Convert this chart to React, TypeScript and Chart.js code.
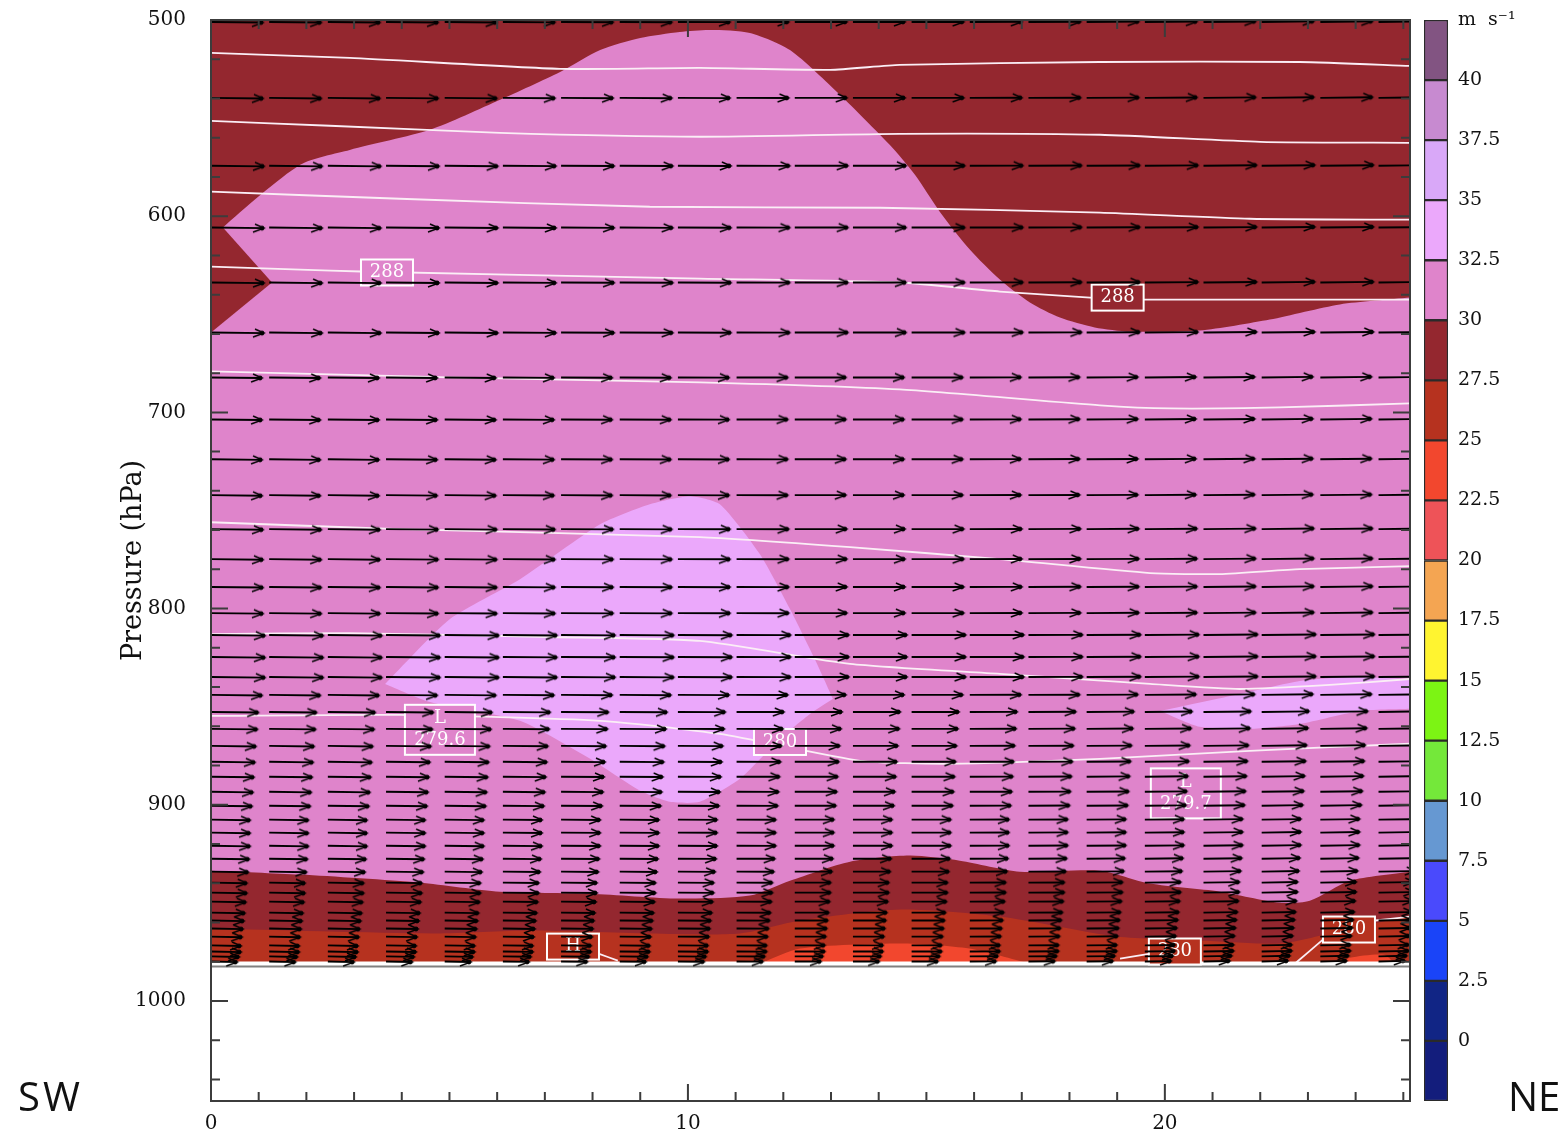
import React, { useEffect, useRef } from "react";
import { Chart, registerables } from "chart.js";

Chart.register(...registerables);

const FONT = "'DejaVu Serif', serif";

// ----- data (x in axis units, pressure in hPa) -----
const GROUND_P = 981;

const ROW_P = [501, 539.7, 574.3, 605.8, 633.8, 659.3, 682.2, 703.6, 723.9, 742.2, 759.5, 774.8, 789, 802.3, 813.5, 824.7, 834.9, 844, 852.7, 861.3, 870, 878.1, 885.7, 893.4, 900.5, 907.6, 914.2, 920.9, 927.5, 934.1, 939.7, 944.8, 949.4, 955, 959, 963.1, 967.2, 971.7, 974.8, 977.3, 979.9];
const ROW_LEN = [1.09, 1.09, 1.11, 1.11, 1.11, 1.11, 1.07, 1.07, 1.07, 1.07, 1.09, 1.09, 1.09, 1.09, 1.13, 1.13, 1.13, 1.07, 0.99, 0.97, 0.94, 0.92, 0.9, 0.88, 0.86, 0.82, 0.82, 0.82, 0.8, 0.78, 0.75, 0.75, 0.73, 0.71, 0.69, 0.67, 0.65, 0.63, 0.63, 0.59, 0.55];
const COLUMN_X = [0, 1.22, 2.45, 3.67, 4.9, 6.12, 7.34, 8.57, 9.79, 11.02, 12.24, 13.46, 14.69, 15.91, 17.14, 18.36, 19.58, 20.81, 22.03, 23.26, 24.48];
const COLUMN_TILT = [0.3, 0.3, 0.3, 0.25, 0.25, 0.2, 0.15, 0.15, 0.1, 0.05, 0, 0, 0, -0.05, -0.1, -0.15, -0.2, -0.25, -0.3, -0.3, -0.3];

const TOP_BROWN_X = [0, 0.25, 1.87, 2.91, 4.59, 6.06, 7.32, 8.16, 9.0, 9.83, 10.46, 11.3, 12.14, 13.19, 14.23, 14.76, 15.28, 15.91, 16.54, 17.17, 17.8, 18.53, 19.27, 20.73, 22.2, 23.67, 25.14];
const TOP_BROWN_P = [614.5, 605.8, 573.8, 566.2, 556, 540.7, 526.5, 515.3, 509.2, 506.1, 505.1, 506.6, 515.3, 538.2, 563.6, 578.9, 597.7, 617, 632.3, 644, 651.7, 656.7, 658.8, 658.3, 652.7, 645, 641.5];
const NOSE_TOP_X = [0, 0.25, 1.28];
const NOSE_TOP_P = [600, 605.8, 633.8];
const NOSE_BOTTOM_X = [0, 1.28];
const NOSE_BOTTOM_P = [659.3, 633.8];

const CORE_TOP_X = [3.65, 5.01, 6.48, 8.16, 9.2, 10.04, 10.67, 11.51, 12.14, 12.66, 13.04];
const CORE_TOP_P = [838.4, 805.3, 785, 757, 746.8, 742.7, 746.8, 772.3, 800.2, 825.7, 846];
const CORE_BOTTOM_X = [3.65, 4.59, 6.48, 7.95, 9.0, 9.62, 10.25, 11.09, 11.93, 12.56, 13.04];
const CORE_BOTTOM_P = [838.4, 847.6, 857.2, 876.6, 892.9, 898.5, 898.5, 886.8, 866.4, 853.7, 846];
const EAST_TOP_X = [19.9, 21.57, 22.83, 23.88, 25.14];
const EAST_TOP_P = [852.2, 843.5, 836.9, 834.9, 835.9];
const EAST_BOTTOM_X = [19.9, 20.73, 21.78, 22.83, 24.09, 25.14];
const EAST_BOTTOM_P = [852.2, 860.3, 861.3, 858.8, 852.2, 851.1];

const LOW_BROWN_X = [0, 1.87, 4.38, 6.06, 7.95, 9.83, 11.3, 12.14, 13.4, 14.65, 15.7, 16.96, 18.64, 19.69, 21.15, 22.41, 23.04, 23.88, 25.14];
const LOW_BROWN_P = [933.6, 935.6, 939.7, 944.3, 945.3, 947.8, 946.3, 938.7, 929, 925.9, 928.5, 934.1, 933.6, 940.2, 944.3, 949.9, 948.9, 938.7, 934.1];
const RUST_X = [0, 4.65, 6.69, 9.2, 11.09, 12.35, 14.46, 16.54, 18.99, 20.73, 22.41, 23.46, 25.14];
const RUST_P = [963.1, 965.6, 964.1, 965.6, 965.6, 959, 953.4, 957, 967.2, 969.2, 970.7, 965.6, 956.5];
const RED_MID_X = [11.51, 12.35, 14.46, 15.9, 17.17];
const RED_MID_P = [981, 973.3, 970.7, 973.3, 981];
const RED_EAST_X = [23.67, 23.88, 24.6, 24.82];
const RED_EAST_P = [981, 978, 976.5, 981];

const THETA_X = [
  [0, 2.91, 7.32, 10.25, 12.98, 14.44, 18.64, 22.83, 25.14],
  [0, 2.49, 6.06, 10.25, 14.44, 18.64, 22, 25.14],
  [0, 3.96, 9.2, 14.03, 18.64, 21.78, 25.14],
  [0, 1.87, 3.14, 10.25, 14.44, 16.54, 18.43, 19.58, 25.14],
  [0, 5.01, 10.25, 14.44, 18.64, 20.11, 22.41, 25.14],
  [0, 3.96, 10.25, 13.4, 16.54, 19.69, 21.15, 22.83, 25.14],
  [0, 2.91, 7.11, 10.25, 13.4, 16.54, 19.69, 21.57, 23.46, 25.14],
  [0, 3.96, 8.16, 10.67, 13.61, 15.5, 18.64, 21.78, 25.14],
  [19.06, 19.7],
  [22.73, 23.35],
  [8.11, 8.53],
  [24.42, 25.14],
];
const THETA_P = [
  [516.8, 519.3, 524.9, 524.4, 525.4, 522.9, 521.4, 521.4, 523.4],
  [551.4, 553.9, 557.5, 559.5, 558, 558.5, 562.1, 562.6],
  [587.5, 591.1, 595.2, 595.7, 598.2, 601.3, 601.8],
  [625.7, 627.2, 628.2, 631.8, 633.8, 638.4, 641.5, 642.5, 642.5],
  [679.1, 682.2, 684.7, 688.3, 696.4, 698, 697.5, 695.4],
  [756, 759.5, 763.6, 768.7, 774.8, 781.9, 782.4, 779.9, 778.4],
  [813, 812.5, 814.5, 816.5, 828.2, 833.3, 838.4, 841, 838.9, 835.9],
  [854.7, 854.2, 857.2, 863.9, 877.6, 879.1, 876.6, 872.5, 868.9],
  [978.4, 975.9],
  [980.9, 968],
  [975.8, 979.4],
  [959, 957],
];

const LABEL_TEXT = [["288"], ["288"], ["L", "279.6"], ["280"], ["L", "279.7"], ["H"], ["280"], ["280"]];
const LABEL_X = [3.69, 19.01, 4.8, 11.93, 20.44, 7.59, 20.21, 23.86];
const LABEL_P = [628.7, 641.5, 861.8, 868, 894.2, 972.3, 974.8, 963.6];

const BAND_EDGES = [-2.5, 0, 2.5, 5, 7.5, 10, 12.5, 15, 17.5, 20, 22.5, 25, 27.5, 30, 32.5, 35, 37.5, 40, 42.5];

// ----- styles -----
const BAND_COLORS = ["#131d7c", "#112585", "#1a44f8", "#4a4afc", "#6698d2", "#74e83a", "#7cf414", "#fff430", "#f4a552", "#ee5358", "#f2472e", "#b6321f", "#94272f", "#df84cb", "#eba8fb", "#d9a8f8", "#c78ad0", "#825482"];
const PINK = "#df84cb";
const LILAC = "#eba8fb";
const BROWN = "#94272f";
const RUST = "#b6321f";
const RED = "#f2472e";
const LABEL_FILL = [PINK, BROWN, PINK, PINK, PINK, RUST, RUST, RUST];
const AXIS_COLOR = "#3c3c3c";

const pts = (xs: number[], ps: number[]) => xs.map((x, i) => ({ x, y: ps[i] }));

function area(data: any[], color: string, fill: any, tension = 0.25) {
  return { type: "line", data, borderWidth: 0, borderColor: "transparent", backgroundColor: color, pointRadius: 0, fill, tension };
}

function makeHead() {
  const c = document.createElement("canvas");
  c.width = 30;
  c.height = 18;
  const g = c.getContext("2d")!;
  g.strokeStyle = "#000";
  g.fillStyle = "#000";
  g.lineWidth = 1.5;
  g.beginPath();
  g.moveTo(6, 5);
  g.lineTo(15, 9);
  g.lineTo(4, 13);
  g.stroke();
  g.beginPath();
  g.arc(13, 9, 2.4, 0, Math.PI * 2);
  g.fill();
  return c;
}

function flatten(s: any) {
  s.paddingTop = 0;
  s.paddingBottom = 0;
  s.paddingLeft = 0;
  s.paddingRight = 0;
  if (s._margins) {
    s._margins.top = 0;
    s._margins.bottom = 0;
    s._margins.left = 0;
    s._margins.right = 0;
  }
}

export default function App() {
  const mainRef = useRef<HTMLCanvasElement>(null);
  const barRef = useRef<HTMLCanvasElement>(null);

  useEffect(() => {
    const head = makeHead();

    const arrows = ROW_P.map((p, r) => {
      const data: any[] = [];
      COLUMN_X.forEach((x, c) => {
        data.push({ x, y: p });
        data.push({ x: x + ROW_LEN[r], y: p + COLUMN_TILT[c] });
        data.push({ x: x + ROW_LEN[r] + 0.01, y: null });
      });
      return {
        type: "line",
        data,
        borderColor: "#000",
        borderWidth: 1.9,
        fill: false,
        tension: 0,
        spanGaps: false,
        pointStyle: head,
        pointRadius: (ctx: any) => (ctx.dataIndex % 3 === 1 ? 6 : 0),
        pointBorderWidth: 0,
      };
    });

    const thetas = THETA_X.map((xs, i) => ({
      type: "line",
      data: pts(xs, THETA_P[i]),
      borderColor: "#fbeef6",
      borderWidth: 1.8,
      pointRadius: 0,
      fill: false,
      tension: 0.2,
    }));

    const ground = [
      { type: "line", data: pts([0, 25.14], [982.4, 982.4]), borderColor: "#808080", borderWidth: 2, pointRadius: 0, fill: false },
      { type: "line", data: pts([0, 25.14], [980.6, 980.6]), borderColor: "#ffffff", borderWidth: 3, pointRadius: 0, fill: false },
    ];

    const fills = [
      area(pts(RED_EAST_X, RED_EAST_P), RED, { target: { value: GROUND_P } }),
      area(pts(RED_MID_X, RED_MID_P), RED, { target: { value: GROUND_P } }),
      area(pts(RUST_X, RUST_P), RUST, { target: { value: GROUND_P } }),
      area(pts(LOW_BROWN_X, LOW_BROWN_P), BROWN, { target: { value: GROUND_P } }),
      area(pts(EAST_TOP_X, EAST_TOP_P), LILAC, "+1", 0.2),
      area(pts(EAST_BOTTOM_X, EAST_BOTTOM_P), "transparent", false, 0.2),
      area(pts(CORE_TOP_X, CORE_TOP_P), LILAC, "+1", 0.2),
      area(pts(CORE_BOTTOM_X, CORE_BOTTOM_P), "transparent", false, 0.2),
      area(pts(NOSE_TOP_X, NOSE_TOP_P), BROWN, "+1", 0),
      area(pts(NOSE_BOTTOM_X, NOSE_BOTTOM_P), "transparent", false, 0),
      area(pts(TOP_BROWN_X, TOP_BROWN_P), BROWN, { target: { value: 500 } }),
      area(pts([0, 25.14], [GROUND_P, GROUND_P]), PINK, { target: { value: 500 } }, 0),
    ];

    const datasets = [...arrows, ...ground, ...thetas, ...fills];
    const lastArrow = arrows.length - 1;

    const labelsPlugin = {
      id: "contourLabels",
      beforeDatasetDraw(chart: any, args: any) {
        if (args.index !== lastArrow) return;
        const { ctx, scales } = chart;
        ctx.save();
        ctx.textAlign = "center";
        ctx.textBaseline = "middle";
        LABEL_TEXT.forEach((lines, i) => {
          const cx = scales.x.getPixelForValue(LABEL_X[i]);
          const cy = scales.y.getPixelForValue(LABEL_P[i]);
          const w = lines.length > 1 ? 70 : 52;
          const h = lines.length > 1 ? 50 : 26;
          ctx.fillStyle = LABEL_FILL[i];
          ctx.fillRect(cx - w / 2, cy - h / 2, w, h);
          ctx.strokeStyle = "#fff";
          ctx.lineWidth = 2;
          ctx.strokeRect(cx - w / 2, cy - h / 2, w, h);
          ctx.fillStyle = "#fff";
          ctx.font = `18px ${FONT}`;
          lines.forEach((t, k) => {
            ctx.fillText(t, cx, cy + (k - (lines.length - 1) / 2) * 22);
          });
        });
        ctx.restore();
      },
    };

    const framePlugin = {
      id: "insideTicks",
      afterDatasetsDraw(chart: any) {
        const { ctx, chartArea: a, scales } = chart;
        ctx.save();
        ctx.strokeStyle = AXIS_COLOR;
        ctx.lineWidth = 2;
        ctx.strokeRect(a.left, a.top, a.right - a.left, a.bottom - a.top);
        ctx.beginPath();
        scales.y.ticks.forEach((t: any) => {
          const y = scales.y.getPixelForValue(t.value);
          const len = t.value % 100 === 0 ? 17 : 9;
          ctx.moveTo(a.left, y);
          ctx.lineTo(a.left + len, y);
          ctx.moveTo(a.right, y);
          ctx.lineTo(a.right - len, y);
        });
        scales.x.ticks.forEach((t: any) => {
          const x = scales.x.getPixelForValue(t.value);
          const len = t.value % 10 === 0 ? 17 : 9;
          ctx.moveTo(x, a.bottom);
          ctx.lineTo(x, a.bottom - len);
          ctx.moveTo(x, a.top);
          ctx.lineTo(x, a.top + len);
        });
        ctx.stroke();
        ctx.restore();
      },
    };

    const main = new Chart(mainRef.current!, {
      type: "line",
      data: { datasets } as any,
      plugins: [labelsPlugin, framePlugin],
      options: {
        responsive: false,
        animation: false,
        devicePixelRatio: 1,
        layout: { autoPadding: false, padding: { left: 0, right: 155, top: 20, bottom: 0 } },
        plugins: { legend: { display: false }, tooltip: { enabled: false }, title: { display: false } },
        scales: {
          x: {
            type: "linear",
            min: 0,
            max: 25.14,
            afterFit: (s: any) => { s.height = 32; flatten(s); },
            grid: { display: false, drawTicks: false },
            border: { display: false },
            ticks: {
              stepSize: 1,
              includeBounds: false,
              autoSkip: false,
              maxRotation: 0,
              padding: 11,
              color: "#111",
              font: { family: FONT, size: 20 },
              callback: (v: any) => (Number(v) % 10 === 0 ? String(v) : ""),
            },
          },
          y: {
            type: "linear",
            reverse: true,
            min: 500,
            max: 1051,
            afterFit: (s: any) => { s.width = 211; flatten(s); },
            grid: { display: false, drawTicks: false },
            border: { display: false },
            title: {
              display: true,
              text: "Pressure (hPa)",
              color: "#111",
              font: { family: FONT, size: 27 },
              padding: { top: 118, bottom: 0 },
            },
            ticks: {
              stepSize: 20,
              includeBounds: false,
              autoSkip: false,
              padding: 25,
              color: "#111",
              font: { family: FONT, size: 20 },
              callback: (v: any) => (Number(v) % 100 === 0 ? String(v) : ""),
            },
          },
        },
      } as any,
    });

    const bar = new Chart(barRef.current!, {
      type: "bar",
      data: {
        labels: ["speed"],
        datasets: BAND_COLORS.map((color, i) => ({
          data: [[BAND_EDGES[i], BAND_EDGES[i + 1]]],
          backgroundColor: color,
          borderColor: "#2a2a2a",
          borderWidth: 1.5,
          borderSkipped: false,
          grouped: false,
          barPercentage: 1,
          categoryPercentage: 1,
        })),
      } as any,
      options: {
        responsive: false,
        animation: false,
        devicePixelRatio: 1,
        layout: { autoPadding: false, padding: { left: 24, right: 0, top: 20, bottom: 32 } },
        plugins: { legend: { display: false }, tooltip: { enabled: false } },
        scales: {
          x: { display: false },
          y: {
            position: "right",
            min: -2.5,
            max: 42.5,
            afterFit: (s: any) => { s.width = 117; flatten(s); },
            grid: { display: false, drawTicks: false },
            border: { display: false },
            ticks: {
              stepSize: 2.5,
              autoSkip: false,
              padding: 10,
              color: "#111",
              font: { family: FONT, size: 19 },
              callback: (v: any) => {
                if (Number(v) === 42.5) return "m  s\u207B\u00B9";
                if (Number(v) === -2.5) return "";
                return String(v);
              },
            },
          },
        },
      } as any,
    });

    return () => {
      main.destroy();
      bar.destroy();
    };
  }, []);

  const canvasStyle: React.CSSProperties = { position: "absolute", top: 0, display: "block", filter: "blur(0.45px)" };
  const sideStyle: React.CSSProperties = {
    position: "absolute",
    top: 1070,
    fontFamily: "'Open Sans', sans-serif",
    fontSize: 40,
    lineHeight: "52px",
    color: "#111",
  };

  return (
    <div style={{ position: "absolute", left: 0, top: 0, width: 1565, height: 1133, background: "#fff", overflow: "hidden" }}>
      <canvas ref={mainRef} width={1565} height={1133} style={{ ...canvasStyle, left: 0, width: 1565, height: 1133 }} />
      <canvas ref={barRef} width={165} height={1133} style={{ ...canvasStyle, left: 1400, width: 165, height: 1133 }} />
      <div style={{ ...sideStyle, left: 18, letterSpacing: 3 }}>SW</div>
      <div style={{ ...sideStyle, left: 1508 }}>NE</div>
    </div>
  );
}
